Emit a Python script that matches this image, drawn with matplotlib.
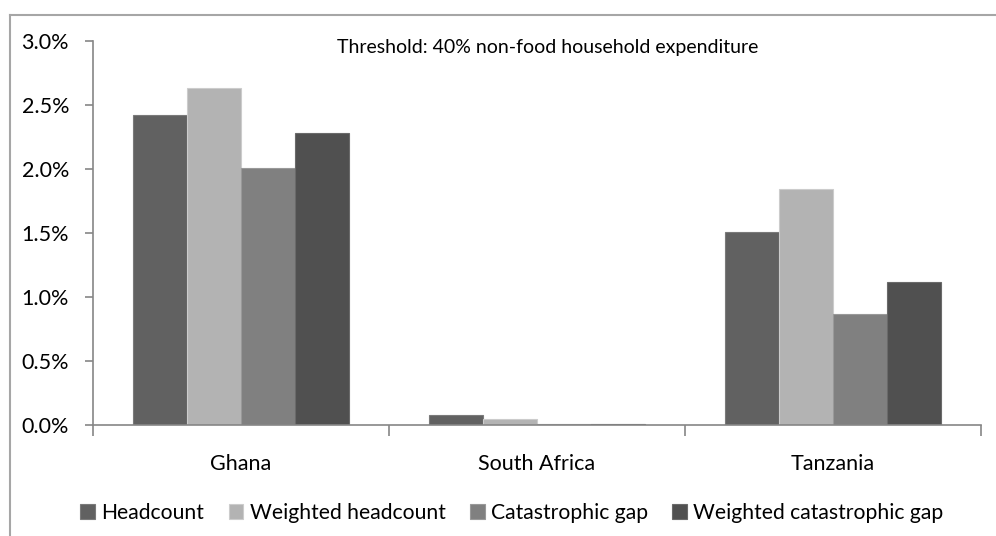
import matplotlib
matplotlib.use('Agg')
import matplotlib.pyplot as plt
from matplotlib.ticker import PercentFormatter
from matplotlib.lines import Line2D
import numpy as np

plt.rcParams['font.family'] = ['Lato', 'DejaVu Sans']

countries = ['Ghana', 'South Africa', 'Tanzania']
series_names = ['Headcount', 'Weighted headcount', 'Catastrophic gap',
                'Weighted catastrophic gap']
# percent of households, threshold 40% of non-food spending
headcount = [2.42, 0.08, 1.51]
weighted_headcount = [2.63, 0.05, 1.84]
catastrophic_gap = [2.01, 0.004, 0.87]
weighted_catastrophic_gap = [2.28, 0.004, 1.12]

series = [headcount, weighted_headcount, catastrophic_gap, weighted_catastrophic_gap]
colors = ['#616161', '#b3b3b3', '#808080', '#505050']
edges = ['#7a7a7a', '#cccccc', '#999999', '#6a6a6a']

W, H = 996, 536
fig = plt.figure(figsize=(W / 100, H / 100), dpi=100)
ax = fig.add_axes([92.7 / W, 1 - 425 / H, (981 - 92.7) / W, (425 - 40.7) / H])

x = np.arange(len(countries))
bw = 0.73 / 4
handles = []
for i, (vals, c, ec) in enumerate(zip(series, colors, edges)):
    b = ax.bar(x + (i - 1.5) * bw, vals, bw, color=c, edgecolor=ec,
               linewidth=0.8, label=series_names[i], zorder=2)
    handles.append(b)

ax.set_ylim(0, 3.0)
ax.set_yticks(np.arange(0, 3.01, 0.5))
ax.yaxis.set_major_formatter(PercentFormatter(100, decimals=1))
ax.set_xlim(-0.5, len(countries) - 0.5)

# boundary ticks between categories, names on minor ticks
ax.set_xticks(np.arange(-0.5, len(countries), 1.0))
ax.set_xticklabels([])
ax.set_xticks(x, minor=True)
ax.set_xticklabels(countries, minor=True)

axis_grey = '#868686'
for side in ['top', 'right']:
    ax.spines[side].set_visible(False)
for side in ['left', 'bottom']:
    ax.spines[side].set_color(axis_grey)
    ax.spines[side].set_linewidth(1.2)
ax.tick_params(axis='y', direction='out', length=6, width=1.2, color=axis_grey,
               labelsize=15.5, pad=11)
ax.tick_params(axis='x', which='major', direction='out', length=8, width=1.2,
               color=axis_grey)
ax.tick_params(axis='x', which='minor', length=0, labelsize=15.5, pad=21)

fig.text(548 / W, 1 - 47 / H, 'Threshold: 40% non-food household expenditure',
         ha='center', va='center', fontsize=14)

fig.legend(handles=handles, loc='center', bbox_to_anchor=(512 / W, 1 - 513 / H),
           ncol=4, frameon=False, fontsize=15.2, handlelength=0.7,
           handleheight=0.7, handletextpad=0.3, columnspacing=1.15)

# chart frame, top and left edges
frame_grey = '#a6a6a6'
fig.add_artist(Line2D([10 / W, 1], [1 - 14.5 / H, 1 - 14.5 / H],
                      transform=fig.transFigure, color=frame_grey, lw=1.5))
fig.add_artist(Line2D([10 / W, 10 / W], [0, 1 - 14.5 / H],
                      transform=fig.transFigure, color=frame_grey, lw=1.5))

fig.savefig('out.png', dpi=100)
